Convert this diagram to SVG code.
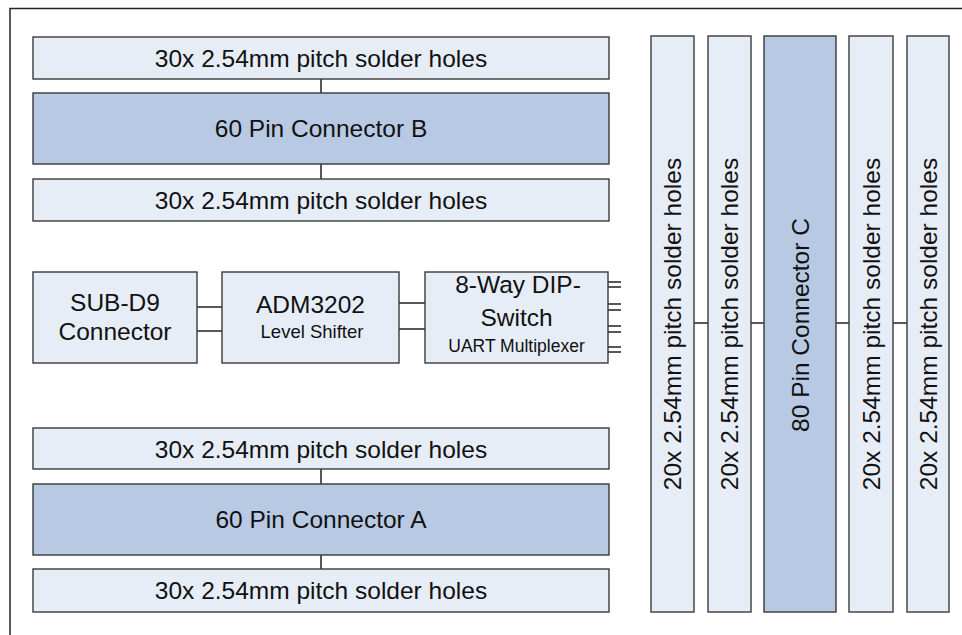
<svg xmlns="http://www.w3.org/2000/svg" width="962" height="635" viewBox="0 0 962 635">
<style>
.lt{fill:#E7EDF7;stroke:#3a3a3a;stroke-width:1.4}
.dk{fill:#B8CAE3;stroke:#3a3a3a;stroke-width:1.4}
.t{font-family:"Liberation Sans",Arial,sans-serif;font-size:24.5px;fill:#111;text-anchor:middle}
.s{font-family:"Liberation Sans",Arial,sans-serif;font-size:18.5px;fill:#111;text-anchor:middle}
.c{stroke:#222;stroke-width:1.5;fill:none}
</style>
<rect width="962" height="635" fill="#fff"/>
<g id="frame"><path d="M10,635 V8.5 H962" class="c" stroke="#333"/></g>
<g id="connectors">
<path class="c" d="M321,79V93M321,164V179M321,469V484M321,555V569"/>
<path class="c" d="M197,307H222M197,331H222M399,303H425M399,329H425"/>
<path class="c" d="M608,282H621M608,287H621M608,304H621M608,310H621M608,326H621M608,332H621M608,347H621M608,352H621"/>
<path class="c" d="M694,323H708M751,323H764M836,323H849M893,323H907"/>
</g>
<g id="holesB1"><rect class="lt" x="33" y="37" width="576" height="42"/><text class="t" x="321" y="66.7">30x 2.54mm pitch solder holes</text></g>
<g id="connB"><rect class="dk" x="33" y="93" width="576" height="71"/><text class="t" x="321" y="137">60 Pin Connector B</text></g>
<g id="holesB2"><rect class="lt" x="33" y="179" width="576" height="42"/><text class="t" x="321" y="208.7">30x 2.54mm pitch solder holes</text></g>
<g id="subd9"><rect class="lt" x="33" y="272" width="164" height="91"/><text class="t" x="115" y="311">SUB-D9</text><text class="t" x="115" y="340">Connector</text></g>
<g id="adm"><rect class="lt" x="222" y="272" width="177" height="91"/><text class="t" x="310.5" y="313">ADM3202</text><text class="s" x="312" y="338">Level Shifter</text></g>
<g id="dip"><rect class="lt" x="425" y="272" width="183" height="91"/><text class="t" x="518" y="293">8-Way DIP-</text><text class="t" x="516.5" y="326">Switch</text><text class="s" x="516.5" y="352" style="font-size:17.5px">UART Multiplexer</text></g>
<g id="holesA1"><rect class="lt" x="33" y="428" width="576" height="41"/><text class="t" x="321" y="457.5">30x 2.54mm pitch solder holes</text></g>
<g id="connA"><rect class="dk" x="33" y="484" width="576" height="71"/><text class="t" x="321" y="528">60 Pin Connector A</text></g>
<g id="holesA2"><rect class="lt" x="33" y="569" width="576" height="43"/><text class="t" x="321" y="599">30x 2.54mm pitch solder holes</text></g>
<g id="col1"><rect class="lt" x="651" y="36" width="43" height="576"/><text class="t" transform="translate(672.5,324) rotate(-90)" y="8.7">20x 2.54mm pitch solder holes</text></g>
<g id="col2"><rect class="lt" x="708" y="36" width="43" height="576"/><text class="t" transform="translate(729.5,324) rotate(-90)" y="8.7">20x 2.54mm pitch solder holes</text></g>
<g id="connC"><rect class="dk" x="764" y="36" width="72" height="576"/><text class="t" transform="translate(800,325) rotate(-90)" y="8.7">80 Pin Connector C</text></g>
<g id="col4"><rect class="lt" x="849" y="36" width="44" height="576"/><text class="t" transform="translate(871,324) rotate(-90)" y="8.7">20x 2.54mm pitch solder holes</text></g>
<g id="col5"><rect class="lt" x="907" y="36" width="42" height="576"/><text class="t" transform="translate(928,324) rotate(-90)" y="8.7">20x 2.54mm pitch solder holes</text></g>
</svg>
